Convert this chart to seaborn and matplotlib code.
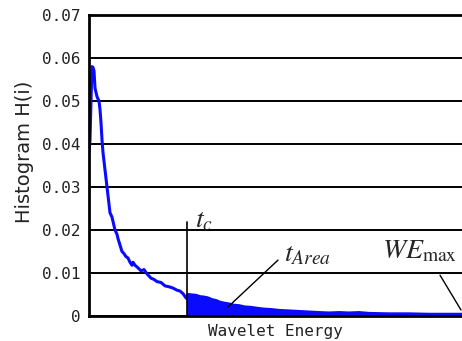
import matplotlib
matplotlib.use("Agg")
import matplotlib.pyplot as plt
import seaborn as sns
import numpy as np
import pandas as pd

# Wavelet energy bin (arbitrary units) and histogram value H(i)
energy = [0, 1, 2, 3, 4, 5, 6, 7, 8, 10, 11, 12, 13, 14, 15, 16, 18, 19, 20, 21,
          23, 24, 26, 28, 29, 31, 33, 35, 37, 39, 41, 43, 44, 46, 49, 52, 55, 58,
          62, 65, 68, 72, 76, 80, 84, 88, 91, 94, 97, 98,
          99, 103, 107, 111, 115, 119, 123, 127, 131, 135, 140, 145, 150, 156,
          162, 168, 175, 182, 190, 198, 206, 214, 222, 230, 240, 250, 260, 270,
          280, 300, 320, 340, 373]
hist = [0.038, 0.041, 0.050, 0.058, 0.0578, 0.057, 0.053, 0.052, 0.051, 0.050,
        0.048, 0.045, 0.041, 0.038, 0.036, 0.034, 0.030, 0.028, 0.026, 0.024,
        0.023, 0.022, 0.020, 0.019, 0.018, 0.0165, 0.015, 0.0145, 0.0138, 0.0135,
        0.0125, 0.0118, 0.0125, 0.0118, 0.0112, 0.0105, 0.0108, 0.0098, 0.0088,
        0.0085, 0.0080, 0.0078, 0.0070, 0.0068, 0.0065, 0.0060, 0.0058, 0.0052,
        0.0042, 0.0040,
        0.0050, 0.0049, 0.0048, 0.0045, 0.0044, 0.0042, 0.0038, 0.0036, 0.0032,
        0.0030, 0.0028, 0.0025, 0.0024, 0.0021, 0.0020, 0.0018, 0.0016, 0.0015,
        0.0013, 0.0012, 0.0011, 0.0010, 0.0009, 0.0008, 0.0007, 0.0008, 0.0007,
        0.0008, 0.0006, 0.0005, 0.0005, 0.0004, 0.0004]
t_c = 98
y_ticks = [0, 0.01, 0.02, 0.03, 0.04, 0.05, 0.06, 0.07]
y_tick_labels = ["0", "0.01", "0.02", "0.03", "0.04", "0.05", "0.06", "0.07"]

df = pd.DataFrame({"energy": energy, "hist": hist})

sns.set_style("white")
plt.rcParams["mathtext.fontset"] = "stix"

fig = plt.figure(figsize=(4.62, 3.41), dpi=100)
ax = fig.add_axes([89 / 462, 1 - 316 / 341, 1 - 89 / 462, (316 - 15) / 341])

blue = "#0a0aff"
sns.lineplot(data=df, x="energy", y="hist", ax=ax, color=blue, linewidth=2.2)
tail = df[df["energy"] >= t_c]
ax.fill_between(tail["energy"], 0, tail["hist"], color=blue, step="post", linewidth=0)

ax.set_xlim(0, 373)
ax.set_ylim(0, 0.07)
ax.set_yticks(y_ticks)
ax.set_yticklabels(y_tick_labels, family="DejaVu Sans Mono", fontsize=11.5, color="#222222")
ax.set_xticks([])
ax.yaxis.grid(True, color="black", linewidth=1.4)
ax.set_axisbelow(True)
ax.tick_params(axis="y", length=0, pad=6)

for s in ["left", "top", "bottom"]:
    ax.spines[s].set_color("black")
    ax.spines[s].set_linewidth(2)
ax.spines["right"].set_visible(False)

ax.set_ylabel("Histogram H(i)", fontsize=14, color="#222222", va="center")
ax.yaxis.set_label_coords(-0.172, 0.545)
ax.set_xlabel("Wavelet Energy", family="DejaVu Sans Mono", fontsize=11.5, labelpad=6, color="#222222")

# t_c marker
ax.plot([t_c, t_c], [0, 0.0219], color="black", linewidth=1.2)
ax.text(106, 0.0205, r"$t_c$", fontsize=20, va="baseline", ha="left")

# t_Area annotation
ax.plot([189, 139], [0.0130, 0.0021], color="black", linewidth=1.0)
ax.text(195, 0.0126, r"$t_{Area}$", fontsize=20, va="baseline", ha="left")

# WE_max annotation
ax.plot([351, 372], [0.0095, 0.0014], color="black", linewidth=1.0)
ax.text(293, 0.0135, r"$WE_{\max}$", fontsize=20, va="baseline", ha="left")

fig.savefig("out.png", dpi=100)
